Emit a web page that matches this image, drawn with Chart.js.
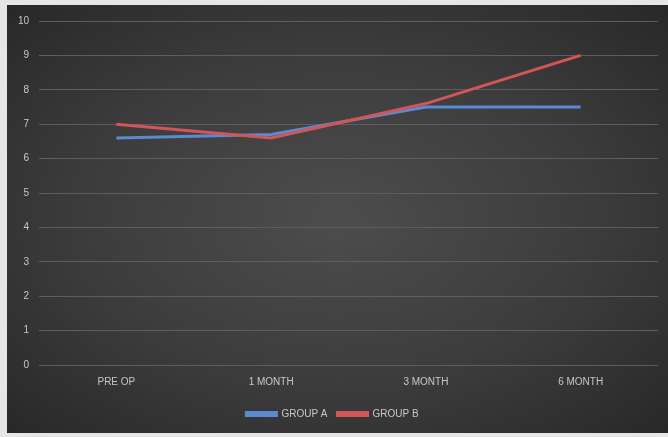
<!DOCTYPE html>
<html>
<head>
<meta charset="utf-8">
<script src="https://cdn.jsdelivr.net/npm/chart.js@4"></script>
<style>
  html, body { margin: 0; padding: 0; background: #e6e6e6; }
  #frame {
    position: absolute; left: 7px; top: 5px; width: 661px; height: 428px;
    background: radial-gradient(ellipse at 50% 50%, #4d4d4d 0%, #3c3c3c 55%, #282828 100%);
  }
</style>
</head>
<body>
<div id="frame"><canvas id="chart" width="661" height="428"></canvas></div>
<script>
const categories = ['PRE OP', '1 MONTH', '3 MONTH', '6 MONTH'];
const groupA = [6.6, 6.7, 7.5, 7.5];
const groupB = [7.0, 6.6, 7.6, 9.0];
const yTicks = [0, 1, 2, 3, 4, 5, 6, 7, 8, 9, 10];

const blue = '#5b8ad0';
const red = '#d2555a';
const textColor = '#c8c8c8';

const ctx = document.getElementById('chart').getContext('2d');

new Chart(ctx, {
  type: 'line',
  data: {
    labels: categories,
    datasets: [
      {
        label: 'GROUP A',
        data: groupA,
        borderColor: blue,
        backgroundColor: blue,
        borderWidth: 3,
        pointRadius: 0,
        tension: 0,
        order: 2
      },
      {
        label: 'GROUP B',
        data: groupB,
        borderColor: red,
        backgroundColor: red,
        borderWidth: 3,
        pointRadius: 0,
        tension: 0,
        order: 1
      }
    ]
  },
  options: {
    responsive: false,
    animation: false,
    layout: { padding: { left: 0, right: 10, top: 15, bottom: 4 } },
    plugins: {
      tooltip: { enabled: false },
      legend: {
        position: 'bottom',
        labels: {
          color: textColor,
          font: { family: 'Liberation Sans', size: 10 },
          boxWidth: 30,
          boxHeight: 3,
          padding: 10,
          // keep GROUP A first even though GROUP B is drawn on top
          sort: (a, b) => a.datasetIndex - b.datasetIndex
        }
      }
    },
    scales: {
      x: {
        offset: true,
        grid: { display: false, drawTicks: false },
        border: { display: false },
        ticks: {
          color: textColor,
          font: { family: 'Liberation Sans', size: 10 },
          padding: 11
        }
      },
      y: {
        min: 0,
        max: 10,
        afterBuildTicks: scale => { scale.ticks = yTicks.map(v => ({ value: v })); },
        afterFit: scale => { scale.width = 32; },
        grid: { color: '#5e5e5e', lineWidth: 1, drawTicks: false },
        border: { display: false },
        ticks: {
          color: textColor,
          font: { family: 'Liberation Sans', size: 10 },
          padding: 10
        }
      }
    }
  }
});
</script>
</body>
</html>
